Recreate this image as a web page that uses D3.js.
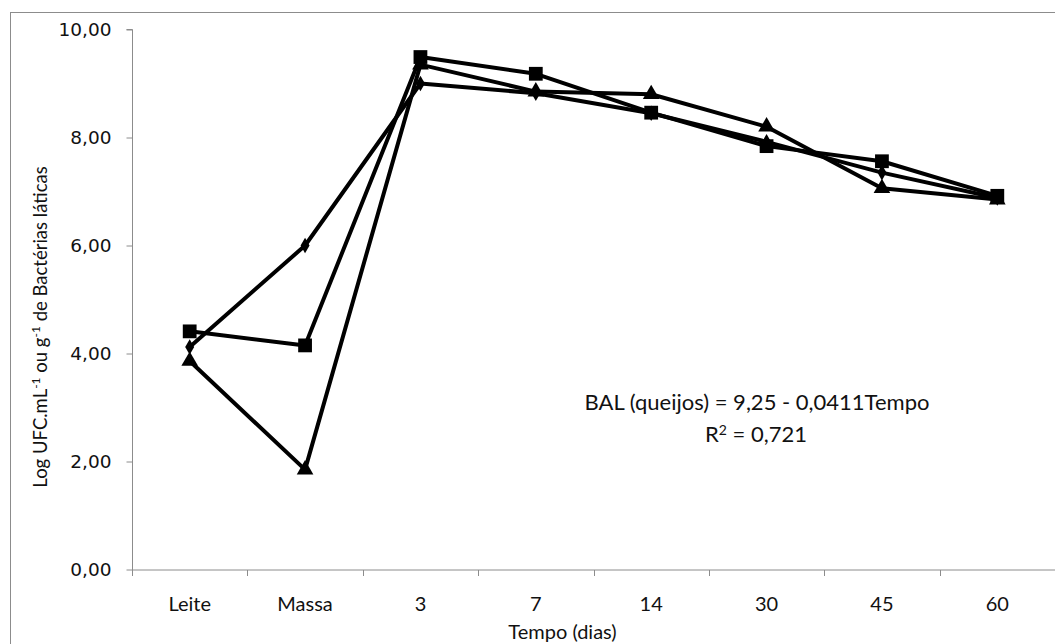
<!DOCTYPE html>
<html>
<head>
<meta charset="utf-8">
<script src="https://cdn.jsdelivr.net/npm/d3@7"></script>
<style>
  html, body { margin: 0; padding: 0; background: #fff; }
  svg { display: block; }
</style>
</head>
<body>
<svg id="chart" width="1055" height="644"></svg>
<script>
const categories = ["Leite", "Massa", "3", "7", "14", "30", "45", "60"];
const serieDiamante = [4.12, 6.0, 9.0, 8.82, 8.45, 7.92, 7.35, 6.88];
const serieQuadrado = [4.41, 4.15, 9.49, 9.18, 8.46, 7.84, 7.56, 6.92];
const serieTriangulo = [3.86, 1.85, 9.35, 8.85, 8.8, 8.2, 7.06, 6.85];
const yTicks = [0, 2, 4, 6, 8, 10];
const yLabel = "Log UFC.mL";
const xTitle = "Tempo (dias)";
const eqText = "BAL (queijos) = 9,25 - 0,0411Tempo";
const r2Text = "0,721";

(function () {
const svg = d3.select("#chart");
const W = 1055, H = 644;
const mLeft = 132, mRight = 1055, mTop = 29.5, mBottom = 569.5;

const x = d3.scaleBand().domain(categories).range([mLeft, mRight]).padding(0);
const y = d3.scaleLinear().domain([0, 10]).range([mBottom, mTop]);

const fmt = v => d3.format(".2f")(v).replace(".", ",");
const grey = "#8c8c8c";
const sansC = "Lato, 'Open Sans', sans-serif";

// outer frame
svg.append("rect").attr("x", 10.5).attr("y", 12.5).attr("width", W + 20).attr("height", H + 20)
  .attr("fill", "none").attr("stroke", grey).attr("stroke-width", 1);

// y axis
const yAxis = d3.axisLeft(y).tickValues(yTicks).tickSize(6).tickPadding(15).tickFormat(fmt);
const gy = svg.append("g").attr("transform", `translate(${mLeft + 0.5},0)`).call(yAxis);
gy.select(".domain").attr("stroke", grey).attr("d", `M-6,${mTop}H0V${mBottom + 6}`);
gy.selectAll(".tick line").attr("stroke", grey);
gy.selectAll(".tick text").attr("font-family", "'DejaVu Sans', sans-serif").attr("font-size", 18.5).attr("fill", "#111");

// x axis with ticks at band boundaries
const gx = svg.append("g").attr("transform", `translate(0,${mBottom + 0.5})`);
gx.append("line").attr("x1", mLeft).attr("x2", mRight).attr("stroke", grey);
const edges = categories.map(c => x(c)).concat([x(categories[categories.length - 1]) + x.bandwidth()]);
gx.selectAll("line.t").data(edges).join("line").attr("class", "t")
  .attr("x1", d => Math.round(d) + 0.5).attr("x2", d => Math.round(d) + 0.5)
  .attr("y1", 0).attr("y2", 6).attr("stroke", grey);
gx.selectAll("text").data(categories).join("text")
  .attr("x", d => x(d) + x.bandwidth() / 2).attr("y", 40.5)
  .attr("text-anchor", "middle").attr("font-family", sansC).attr("font-size", 20).attr("fill", "#111")
  .text(d => d);

// axis titles
svg.append("text").attr("x", mLeft + (mRight - mLeft) / 2 - 31).attr("y", 639)
  .attr("text-anchor", "middle").attr("font-family", sansC).attr("font-size", 20).attr("fill", "#111")
  .text(xTitle);

const yt = svg.append("text").attr("transform", `translate(47,327) rotate(-90)`)
  .attr("text-anchor", "middle").attr("font-family", sansC).attr("font-size", 18.5).attr("fill", "#111");
yt.append("tspan").text(yLabel);
yt.append("tspan").attr("dy", -7).attr("font-size", 12).text("-1");
yt.append("tspan").attr("dy", 7).text(" ou g");
yt.append("tspan").attr("dy", -7).attr("font-size", 12).text("-1");
yt.append("tspan").attr("dy", 7).text(" de Bactérias láticas");

// lines
const line = d3.line().x((d, i) => x(categories[i]) + x.bandwidth() / 2).y(d => y(d));
const series = [
  { values: serieDiamante, shape: d3.symbolDiamond, size: 70 },
  { values: serieTriangulo, shape: d3.symbolTriangle, size: 120 },
  { values: serieQuadrado, shape: d3.symbolSquare, size: 190 }
];
series.forEach(s => {
  svg.append("path").datum(s.values).attr("d", line)
    .attr("fill", "none").attr("stroke", "#000").attr("stroke-width", 4).attr("stroke-linejoin", "round");
});
series.forEach(s => {
  svg.append("g").selectAll("path").data(s.values).join("path")
    .attr("transform", (d, i) => `translate(${x(categories[i]) + x.bandwidth() / 2},${y(d)})`)
    .attr("d", d3.symbol().type(s.shape).size(s.size))
    .attr("fill", "#000");
});

// annotation
const ann = svg.append("g").attr("font-family", sansC).attr("font-size", 22).attr("fill", "#111").attr("text-anchor", "middle");
ann.append("text").attr("x", 757).attr("y", 410).text(eqText);
const r2 = ann.append("text").attr("x", 756).attr("y", 442);
r2.append("tspan").text("R");
r2.append("tspan").attr("dy", -7).attr("font-size", 14).text("2");
r2.append("tspan").attr("dy", 7).text(" = " + r2Text);
})();
</script>
</body>
</html>
